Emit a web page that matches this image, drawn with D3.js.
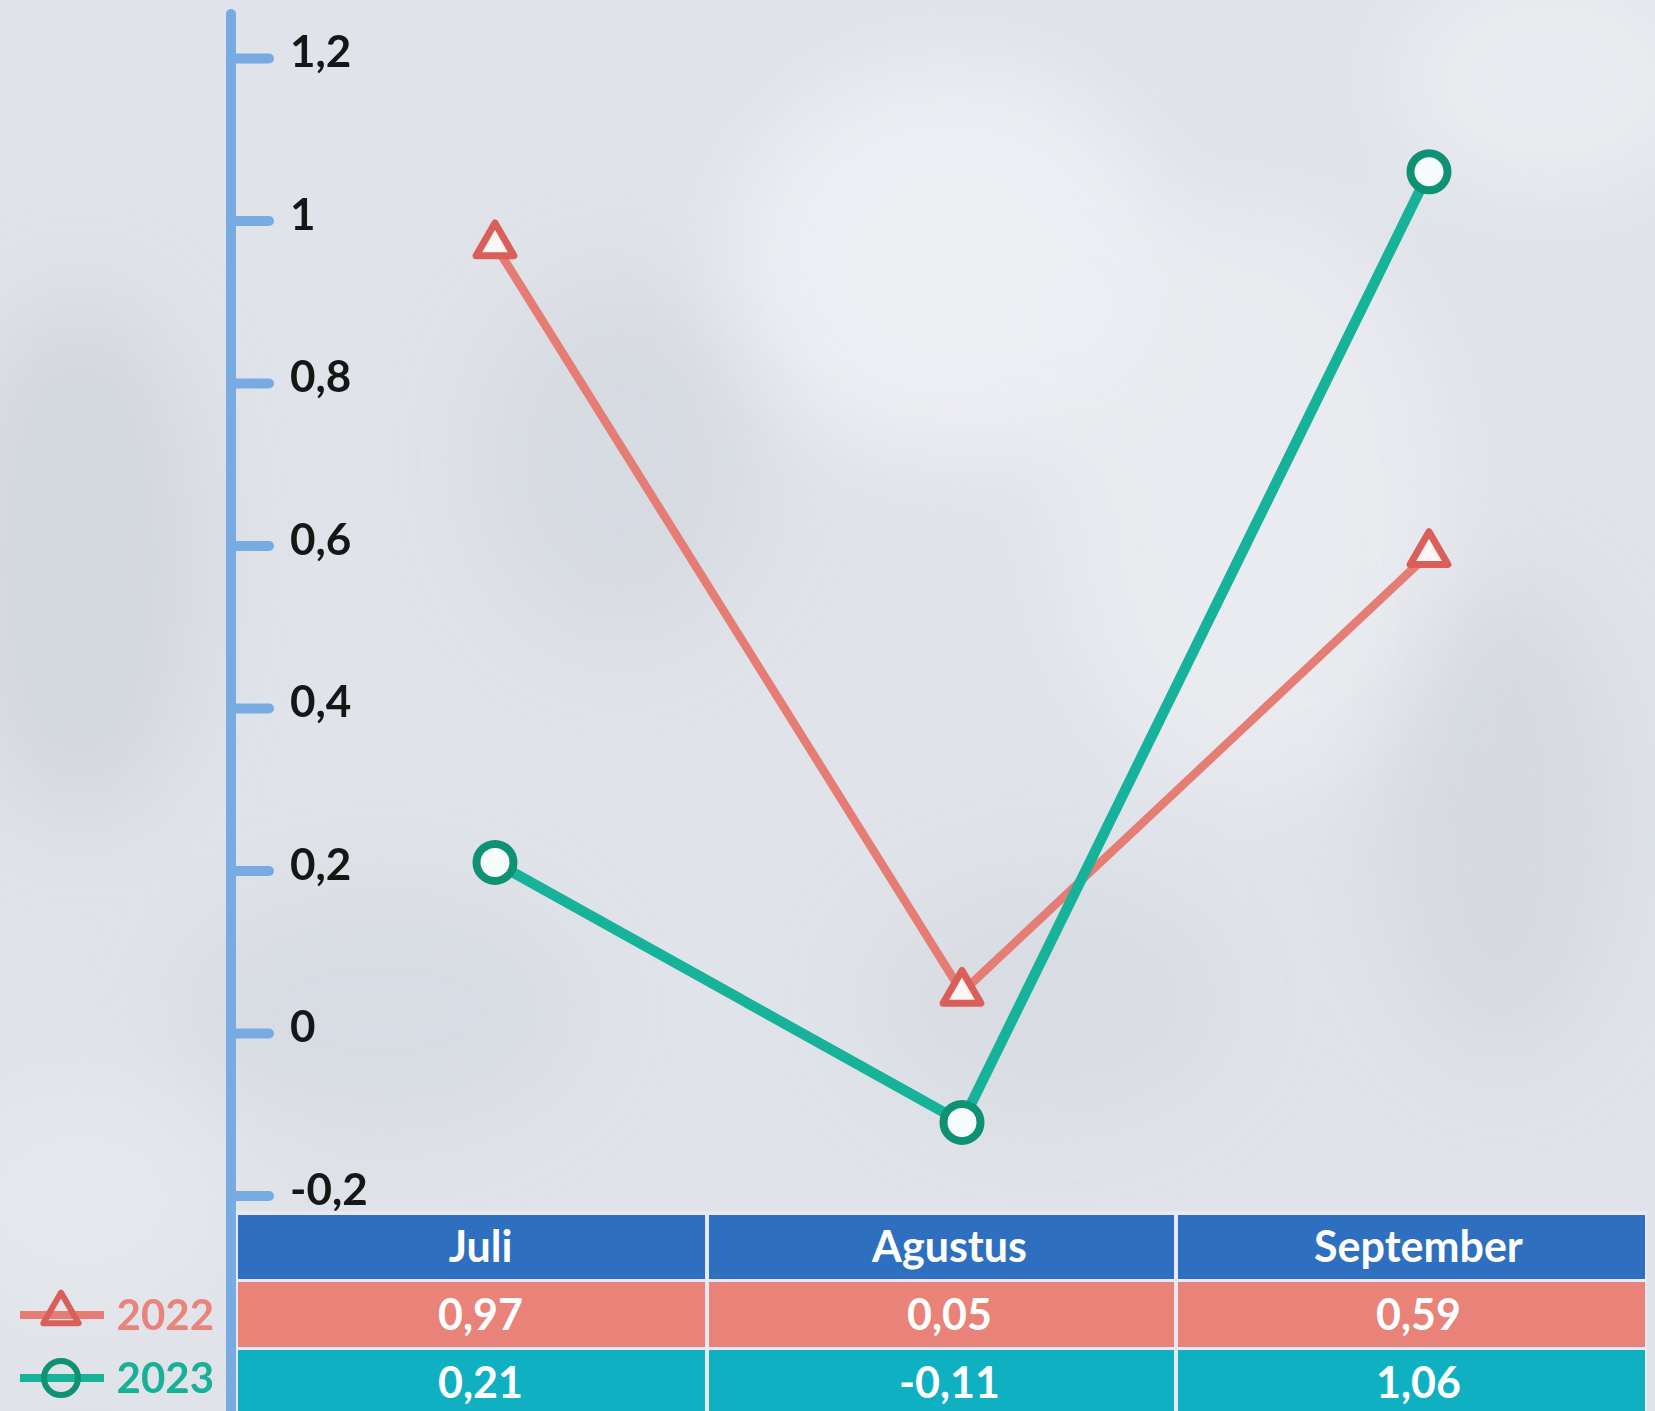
<!DOCTYPE html>
<html>
<head>
<meta charset="utf-8">
<script src="https://cdn.jsdelivr.net/npm/d3@7"></script>
<style>
  html, body { margin: 0; padding: 0; background: #dfe3e8; }
  svg { display: block; }
  text { font-family: Lato, "Open Sans", sans-serif; font-weight: 700; }
</style>
</head>
<body>
<svg id="chart" width="1655" height="1411"></svg>
<script>
// ---- data ----
const months = ["Juli", "Agustus", "September"];
const series2022 = [0.97, 0.05, 0.59];
const series2023 = [0.21, -0.11, 1.06];
const seriesNames = ["2022", "2023"];
const yTicks = [-0.2, 0, 0.2, 0.4, 0.6, 0.8, 1, 1.2];

// ---- setup ----
const W = 1655, H = 1411;
const svg = d3.select("#chart");
const defs = svg.append("defs");

const fmt = d => String(d).replace(".", ",");

// background texture (soft snow)
const blur = defs.append("filter").attr("id", "blur").attr("x", "-50%").attr("y", "-50%").attr("width", "200%").attr("height", "200%");
blur.append("feGaussianBlur").attr("stdDeviation", 45);
svg.append("rect").attr("width", W).attr("height", H).attr("fill", "#e0e3e9");
const blobs = svg.append("g").attr("filter", "url(#blur)");
const blobData = [
  {x: 950, y: 260, rx: 220, ry: 200, c: "#eef0f4", o: 0.9},
  {x: 1250, y: 500, rx: 200, ry: 300, c: "#eceef2", o: 0.7},
  {x: 80, y: 560, rx: 120, ry: 260, c: "#c8cdd5", o: 0.55},
  {x: 620, y: 460, rx: 140, ry: 180, c: "#ccd1d9", o: 0.45},
  {x: 380, y: 1010, rx: 200, ry: 120, c: "#cfd4dc", o: 0.45},
  {x: 1500, y: 820, rx: 120, ry: 240, c: "#cbd0d8", o: 0.45},
  {x: 1050, y: 1000, rx: 180, ry: 120, c: "#d0d5dc", o: 0.45},
  {x: 1550, y: 80, rx: 160, ry: 120, c: "#ecedf1", o: 0.8},
  {x: 80, y: 1200, rx: 150, ry: 120, c: "#e7e9ee", o: 0.7}
];
blobs.selectAll("ellipse").data(blobData).join("ellipse")
  .attr("cx", d => d.x).attr("cy", d => d.y).attr("rx", d => d.rx).attr("ry", d => d.ry)
  .attr("fill", d => d.c).attr("opacity", d => d.o);

// ---- scales ----
const y = d3.scaleLinear().domain([-0.2, 1.2]).range([1195.5, 58]);
const x = d3.scalePoint().domain(months).range([495, 1429]);
const tableX = d3.scaleBand().domain(months).range([238, 1645]).paddingInner(0);

const axisColor = "#78abe2";
const c2022 = "#e67d74", c2022dark = "#d95f58";
const c2023 = "#17b29a", c2023dark = "#0f9174";

// ---- y axis ----
const axisX = 231;
svg.append("line").attr("x1", axisX).attr("x2", axisX).attr("y1", 14).attr("y2", 1411)
  .attr("stroke", axisColor).attr("stroke-width", 10).attr("stroke-linecap", "round");

const yAxis = d3.axisRight(y).tickValues(yTicks).tickFormat(fmt).tickSize(38).tickPadding(21);
const gy = svg.append("g").attr("transform", `translate(${axisX},0)`).call(yAxis);
gy.select(".domain").remove();
gy.selectAll(".tick line").attr("stroke", axisColor).attr("stroke-width", 10).attr("stroke-linecap", "round");
gy.selectAll(".tick text").attr("fill", "#161616").attr("font-size", 44).attr("dy", "0.2em")
  .attr("font-family", "Lato, sans-serif").attr("font-weight", 900);

// ---- lines ----
const line = d3.line().x((d, i) => x(months[i])).y(d => y(d));
svg.append("path").datum(series2022).attr("d", line).attr("fill", "none")
  .attr("stroke", c2022).attr("stroke-width", 8.5).attr("stroke-linejoin", "round");
svg.append("path").datum(series2023).attr("d", line).attr("fill", "none")
  .attr("stroke", c2023).attr("stroke-width", 10.5).attr("stroke-linejoin", "round");

// ---- markers ----
const tri = d3.symbol().type(d3.symbolTriangle).size(620);
svg.append("g").selectAll("path").data(series2022).join("path")
  .attr("d", tri)
  .attr("transform", (d, i) => `translate(${x(months[i])},${y(d)})`)
  .attr("fill", "#fdf6f4").attr("stroke", c2022dark).attr("stroke-width", 7).attr("stroke-linejoin", "round");
svg.append("g").selectAll("circle").data(series2023).join("circle")
  .attr("cx", (d, i) => x(months[i])).attr("cy", d => y(d)).attr("r", 18.5)
  .attr("fill", "#f6fcfb").attr("stroke", c2023dark).attr("stroke-width", 8);

// ---- data table ----
const rowTops = [1215, 1282, 1350];
const rowH = [64, 65, 65];
const rowColors = ["#2e6fc0", "#e98279", "#0eb0c2"];
const rowValues = [months, series2022.map(fmt), series2023.map(fmt)];
const table = svg.append("g");
table.append("rect").attr("x", 236).attr("y", 1211).attr("width", 1411).attr("height", 200).attr("fill", "#e9e8f5");
rowValues.forEach((vals, r) => {
  const g = table.append("g");
  g.selectAll("rect").data(months).join("rect")
    .attr("x", (m, i) => tableX(m) + (i === 0 ? 0 : 2))
    .attr("y", rowTops[r])
    .attr("width", (m, i) => tableX.bandwidth() - (i === 0 ? 2 : 4) + (i === 2 ? 2 : 0))
    .attr("height", rowH[r])
    .attr("fill", rowColors[r]);
  g.selectAll("text").data(vals).join("text")
    .attr("x", (v, i) => tableX(months[i]) + tableX.bandwidth() / 2 + 8)
    .attr("y", rowTops[r] + rowH[r] / 2)
    .attr("dy", "0.36em")
    .attr("text-anchor", "middle")
    .attr("fill", "#ffffff")
    .attr("font-size", 43)
    .attr("font-weight", 900)
    .text(v => v);
});

// ---- legend ----
const legendRows = [
  {name: seriesNames[0], y: 1315, color: c2022, dark: c2022dark, shape: "tri", text: "#e8847b"},
  {name: seriesNames[1], y: 1378, color: c2023, dark: c2023dark, shape: "circle", text: "#16b196"}
];
const lg = svg.append("g");
legendRows.forEach(l => {
  lg.append("line").attr("x1", 20).attr("x2", 104).attr("y1", l.y).attr("y2", l.y)
    .attr("stroke", l.color).attr("stroke-width", 8);
  if (l.shape === "tri") {
    lg.append("path").attr("d", d3.symbol().type(d3.symbolTriangle).size(540)())
      .attr("transform", `translate(61,${l.y - 2})`)
      .attr("fill", "none").attr("stroke", l.dark).attr("stroke-width", 6).attr("stroke-linejoin", "round");
  } else {
    lg.append("circle").attr("cx", 61).attr("cy", l.y).attr("r", 17)
      .attr("fill", "none").attr("stroke", l.dark).attr("stroke-width", 6);
  }
  lg.append("text").attr("x", 214).attr("y", l.y).attr("dy", "0.36em")
    .attr("text-anchor", "end").attr("fill", l.text).attr("font-size", 42).attr("font-weight", 900).text(l.name);
});
</script>
</body>
</html>
